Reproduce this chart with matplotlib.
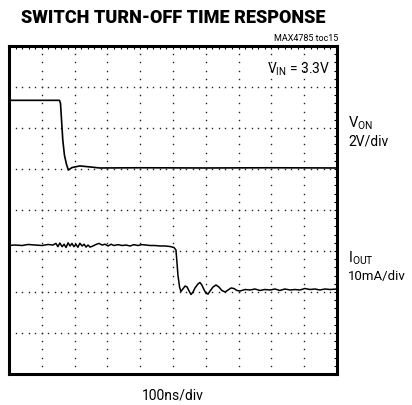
import matplotlib
matplotlib.use("Agg")
import matplotlib.pyplot as plt
import numpy as np

plt.rcParams['font.family'] = ['Roboto', 'DejaVu Sans']
plt.rcParams['mathtext.fontset'] = 'custom'
plt.rcParams['mathtext.rm'] = 'Roboto'
plt.rcParams['mathtext.it'] = 'Roboto'

# ---- data (time in ns, V_ON in volts, I_OUT in mA) ----
von_t = [0, 154, 157, 164, 169, 175, 181, 192, 216, 241, 277, 400, 600, 800, 1000]
von_v = [3.35, 3.35, 3.2, 1.41, 0.68, 0.24, -0.05, 0.07, 0.15, 0.11, 0.05, 0.06, 0.05, 0.06, 0.05]

iout_t = [0, 18, 40, 58, 79, 101, 119, 134, 143, 149, 155, 162, 168, 174, 180, 186, 192, 198,
          204, 210, 216, 223, 229, 235, 241, 247, 256, 265, 274, 284, 293, 302, 311, 320, 332,
          345, 357, 369, 381, 393, 405, 418, 430, 445, 460, 476, 491, 503, 509, 512, 515, 520,
          524, 530, 537, 543, 549, 555, 561, 567, 576, 582, 588, 595, 601, 607, 613, 622, 631,
          640, 649, 659, 668, 677, 686, 695, 704, 720, 735, 750, 765, 780, 796, 811, 826, 841,
          857, 872, 887, 902, 918, 933, 948, 963, 979, 1000]
iout_ma = [11.34, 11.46, 11.34, 11.59, 11.46, 11.34, 11.59, 11.46, 11.85, 11.05, 11.95, 11.05,
           11.65, 10.85, 12.0, 11.22, 11.85, 11.05, 11.65, 10.9, 11.9, 11.22, 11.65, 10.95,
           11.46, 10.95, 11.22, 11.59, 11.85, 11.46, 11.65, 11.22, 11.65, 11.34, 11.55, 11.34,
           11.46, 11.22, 11.55, 11.34, 11.55, 11.46, 11.34, 11.34, 11.22, 11.22, 11.1, 10.85,
           10.24, 7.32, 4.15, 1.22, 0.12, 0.73, 1.46, 1.22, 0.24, -0.61, 0.0, 0.98, 1.95, 2.32,
           1.71, 0.49, -0.37, -0.49, 0.24, 1.22, 1.71, 1.22, 0.37, 0.0, 0.49, 0.98, 0.85, 0.37,
           0.24, 0.61, 0.49, 0.73, 0.37, 0.61, 0.49, 0.73, 0.37, 0.73, 0.49, 0.61, 0.49, 0.85,
           0.61, 0.73, 0.49, 0.73, 0.61, 0.73]

VON_OFFSET_DIV, VON_SCALE = 5.0, 2.0    # 2V/div
IOUT_OFFSET_DIV, IOUT_SCALE = 2.0, 10.0 # 10mA/div

fig = plt.figure(figsize=(4.12, 4.05), dpi=100)
L, R, T, B = 9, 337, 46, 374
ax = fig.add_axes([L / 412, (405 - B) / 405, (R - L) / 412, (B - T) / 405])
ax.set_xlim(0, 1000)
ax.set_ylim(0, 8)

# dotted graticule
for i in range(1, 10):
    ys = np.arange(0, 8.001, 0.2)
    ax.plot(np.full_like(ys, i * 100), ys, ls='none', marker='s', ms=1.0, color='#222222', mew=0)
for j in range(1, 8):
    xs = np.arange(0, 1000.1, 20)
    ax.plot(xs, np.full_like(xs, j), ls='none', marker='s', ms=1.0, color='#222222', mew=0)

ax.plot(von_t, [VON_OFFSET_DIV + v / VON_SCALE for v in von_v], color='black', lw=1.2)
ax.plot(iout_t, [IOUT_OFFSET_DIV + v / IOUT_SCALE for v in iout_ma], color='black', lw=1.1)

for s in ax.spines.values():
    s.set_linewidth(2.2)
ax.set_xticks(np.arange(0, 1001, 20))
ax.set_yticks(np.arange(0, 8.01, 0.2))
ax.tick_params(direction='in', length=2.5, width=0.8, top=True, right=True, bottom=False, left=False,
               labelbottom=False, labelleft=False)

fig.text(173 / 412, 1 - 18 / 405, 'SWITCH TURN-OFF TIME RESPONSE', ha='center', va='center',
         fontsize=13, fontweight='black')
fig.text(338 / 412, 1 - 41 / 405, 'MAX4785 toc15', ha='right', va='baseline', fontsize=6.5)
fig.text(330 / 412, 1 - 74 / 405, r'V$_{\rm IN}$ = 3.3V', ha='right', va='baseline', fontsize=10)
fig.text(348 / 412, 1 - 128 / 405, r'V$_{\rm ON}$', ha='left', va='baseline', fontsize=10.5)
fig.text(348 / 412, 1 - 146 / 405, '2V/div', ha='left', va='baseline', fontsize=10)
fig.text(348 / 412, 1 - 263 / 405, r'I$_{\rm OUT}$', ha='left', va='baseline', fontsize=10.5)
fig.text(348 / 412, 1 - 280 / 405, '10mA/div', ha='left', va='baseline', fontsize=9.5)
fig.text(173 / 412, 1 - 400 / 405, '100ns/div', ha='center', va='baseline', fontsize=10)

fig.savefig('out.png', dpi=100)
